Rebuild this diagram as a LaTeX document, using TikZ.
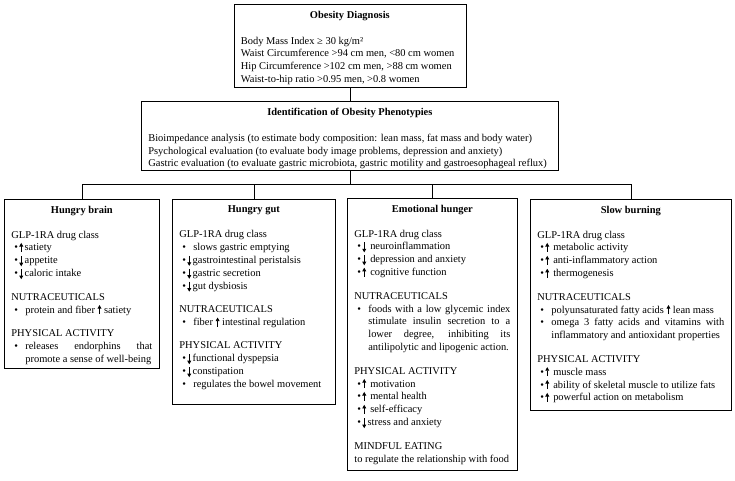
\documentclass[tikz,border=0pt]{standalone}
\usepackage{fontspec}
\setmainfont{Liberation Serif}
\usetikzlibrary{arrows.meta}

% small arrows inside the lists
\newcommand{\arrup}{\tikz[baseline=0pt]\draw[-{Triangle[length=3.6pt,width=3.8pt]},line width=0.8pt] (0pt,-1pt) -- (0pt,8pt);}
\newcommand{\arrdn}{\tikz[baseline=0pt]\draw[-{Triangle[length=3.6pt,width=3.8pt]},line width=0.8pt] (0pt,7.5pt) -- (0pt,-2.5pt);}
\newcommand{\hd}[1]{{\centering\bfseries #1\par}}
\newcommand{\sect}{\par\vspace{10.5pt}}
\newcommand{\itm}[1]{\par\hangindent=14pt\hangafter=1\noindent\makebox[14pt][l]{\hspace{3pt}\textbullet}#1}
\newcommand{\itmup}[1]{\par\noindent\makebox[8pt][l]{\hspace{3pt}\textbullet}\arrup\hspace{1.5pt}#1}
\newcommand{\itmdn}[1]{\par\noindent\makebox[8pt][l]{\hspace{3pt}\textbullet}\arrdn\hspace{1.5pt}#1}
\newcommand{\boxbody}[3]{\parbox[c][#2][t]{#1}{\vspace*{6.5pt}#3}}

\begin{document}
\begin{tikzpicture}[x=1pt, y=-1pt,
                    panel/.style={draw, line width=0.7pt, inner xsep=7pt, inner ysep=0pt,
                                  anchor=north west, font=\fontsize{10.45}{12.9}\selectfont},
                    link/.style={line width=0.7pt}]
\useasboundingbox (0,0) rectangle (735,480);
% diagnosis and phenotypes
\node[panel] (diag) at (233.5,4) {\boxbody{218pt}{83pt}{%
  \hd{Obesity Diagnosis}\vspace{13pt}
  Body Mass Index ≥ 30 kg/m²\par
  Waist Circumference >94 cm men, <80 cm women\par
  Hip Circumference >102 cm men, >88 cm women\par
  Waist-to-hip ratio >0.95 men, >0.8 women}};
\node[panel] (pheno) at (141,101) {\boxbody{403pt}{69pt}{%
  \hd{Identification of Obesity Phenotypies}\vspace{13pt}
  Bioimpedance analysis (to estimate body composition: lean mass, fat mass and body water)\par
  Psychological evaluation (to evaluate body image problems, depression and anxiety)\par
  Gastric evaluation (to evaluate gastric microbiota, gastric motility and gastroesophageal reflux)}};
% the four phenotypes
\node[panel] (brain) at (4,199) {\boxbody{141pt}{169pt}{%
  \hd{Hungry brain}\vspace{12pt}
  GLP-1RA drug class
  \itmup{satiety}
  \itmdn{appetite}
  \itmdn{caloric intake}
  \sect NUTRACEUTICALS
  \itm{protein and fiber \arrup{} satiety}
  \sect PHYSICAL ACTIVITY
  \itm{releases endorphins that\linebreak promote a sense of well-being}}};
\node[panel] (gut) at (172,199) {\boxbody{149pt}{205pt}{%
  \hd{Hungry gut}\vspace{12pt}
  GLP-1RA drug class
  \itm{slows gastric emptying}
  \itmdn{gastrointestinal peristalsis}
  \itmdn{gastric secretion}
  \itmdn{gut dysbiosis}
  \sect NUTRACEUTICALS
  \itm{fiber \arrup{} intestinal regulation}
  \sect PHYSICAL ACTIVITY
  \itmdn{functional dyspepsia}
  \itmdn{constipation}
  \itm{regulates the bowel movement}}};
\node[panel] (emo) at (347,198) {\boxbody{156pt}{272pt}{%
  \hd{Emotional hunger}\vspace{12pt}
  GLP-1RA drug class
  \itmdn{ neuroinflammation}
  \itmdn{ depression and anxiety}
  \itmup{ cognitive function}
  \sect NUTRACEUTICALS
  \itm{foods with a low glycemic index\linebreak stimulate insulin secretion to a\linebreak
       lower degree, inhibiting its\linebreak antilipolytic and lipogenic action.}
  \sect PHYSICAL ACTIVITY
  \itmup{ motivation}
  \itmup{ mental health}
  \itmup{ self-efficacy}
  \itmdn{stress and anxiety}
  \sect MINDFUL EATING\par
  to regulate the relationship with food}};
\node[panel] (slow) at (530,199) {\boxbody{187pt}{211pt}{%
  \hd{Slow burning}\vspace{12pt}
  GLP-1RA drug class
  \itmup{ metabolic activity}
  \itmup{ anti-inflammatory action}
  \itmup{ thermogenesis}
  \sect NUTRACEUTICALS
  \itm{polyunsaturated fatty acids \arrup{} lean mass}
  \itm{omega 3 fatty acids and vitamins with\linebreak inflammatory and antioxidant properties}
  \sect PHYSICAL ACTIVITY
  \itmup{ muscle mass}
  \itmup{ ability of skeletal muscle to utilize fats}
  \itmup{ powerful action on metabolism}}};
% connectors
\coordinate (hub) at ([yshift=-14pt]pheno.south);
\draw[link] (diag) -- (pheno);
\draw[link] (pheno.south) -- (hub);
\foreach \b in {brain,gut,emo,slow}
  \draw[link] (hub) -| (\b.north);
\end{tikzpicture}
\end{document}
